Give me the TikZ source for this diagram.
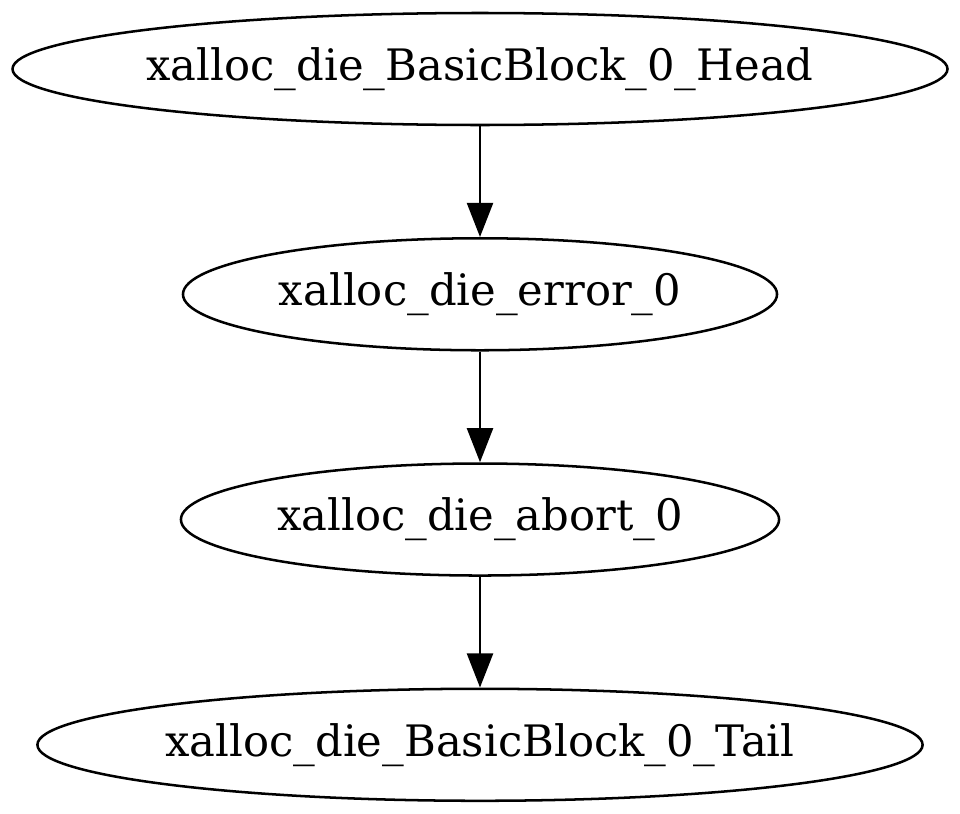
\documentclass[tikz,border=0pt]{standalone}
\usepackage{fontspec}
\setmainfont{DejaVu Serif}
\usepackage{tikz}
\usetikzlibrary{arrows.meta,positioning,shapes.geometric}

\begin{document}
\begin{tikzpicture}[
  blk/.style={draw,ellipse,line width=0.68pt,inner sep=0pt,minimum height=30.24pt,font=\fontsize{11.7}{14}\selectfont},
  arr/.style={-{Triangle[length=9.2pt,width=7pt]},line width=0.68pt}
]
  \useasboundingbox (0,0) rectangle (259.2pt,-219.51pt);
  \node[blk,minimum width=252.45pt] (head) at (129.6pt,-18.63pt) {\makebox[0pt]{xalloc\_die\_BasicBlock\_0\_Head}};
  \node[blk,minimum width=160.4pt,below=29.9pt of head] (err) {\makebox[0pt]{xalloc\_die\_error\_0}};
  \node[blk,minimum width=161.5pt,below=29.9pt of err] (abrt) {\makebox[0pt]{xalloc\_die\_abort\_0}};
  \node[blk,minimum width=239pt,below=29.9pt of abrt] (tail) {\makebox[0pt]{xalloc\_die\_BasicBlock\_0\_Tail}};
  \draw[arr] (head)--(err);
  \draw[arr] (err)--(abrt);
  \draw[arr] (abrt)--(tail);
\end{tikzpicture}
\end{document}
